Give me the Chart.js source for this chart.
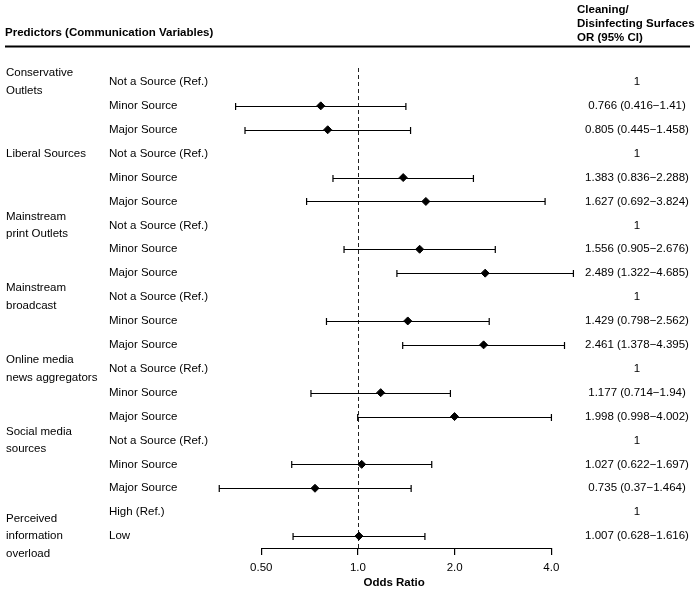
<!DOCTYPE html>
<html>
<head>
<meta charset="utf-8">
<script src="https://cdn.jsdelivr.net/npm/chart.js@4/dist/chart.umd.min.js"></script>
<style>
html,body{margin:0;padding:0;background:#fff;}
#c{display:block;}
</style>
</head>
<body>
<canvas id="c" width="699" height="591"></canvas>
<script>
// ---- data ----
const groupLabels = [
  ["Conservative", "Outlets"],
  ["Liberal Sources"],
  ["Mainstream", "print Outlets"],
  ["Mainstream", "broadcast"],
  ["Online media", "news aggregators"],
  ["Social media", "sources"],
  ["Perceived", "information", "overload"]
];
const groupLabelRow = [1, 4, 7, 10, 13, 16, 20];
const levelLabels = [
  "Not a Source (Ref.)", "Minor Source", "Major Source",
  "Not a Source (Ref.)", "Minor Source", "Major Source",
  "Not a Source (Ref.)", "Minor Source", "Major Source",
  "Not a Source (Ref.)", "Minor Source", "Major Source",
  "Not a Source (Ref.)", "Minor Source", "Major Source",
  "Not a Source (Ref.)", "Minor Source", "Major Source",
  "High (Ref.)", "Low"
];
const oddsRatio = [1, 0.766, 0.805, 1, 1.383, 1.627, 1, 1.556, 2.489, 1, 1.429, 2.461, 1, 1.177, 1.998, 1, 1.027, 0.735, 1, 1.007];
const ciLower  = [null, 0.416, 0.445, null, 0.836, 0.692, null, 0.905, 1.322, null, 0.798, 1.378, null, 0.714, 0.998, null, 0.622, 0.37, null, 0.628];
const ciUpper  = [null, 1.41, 1.458, null, 2.288, 3.824, null, 2.676, 4.685, null, 2.562, 4.395, null, 1.94, 4.002, null, 1.697, 1.464, null, 1.616];
const tickValues = [0.5, 1, 2, 4];
const tickLabels = ["0.50", "1.0", "2.0", "4.0"];
const leftHeader = "Predictors (Communication Variables)";
const rightHeader = ["Cleaning/", "Disinfecting Surfaces", "OR (95% CI)"];
const xTitle = "Odds Ratio";

// ---- derived ----
const rows = oddsRatio.map((v, i) => i + 1);
const pointData = [];
oddsRatio.forEach((v, i) => { if (ciLower[i] !== null) pointData.push({x: v, y: rows[i]}); });
const orText = oddsRatio.map((v, i) => ciLower[i] === null ? String(v) : `${v} (${ciLower[i]}\u2212${ciUpper[i]})`);

const FONT = "'Liberation Sans', Arial, sans-serif";
const FS = 11.5;
const INK = '#000';

const forestPlugin = {
  id: 'forest',
  beforeDatasetsDraw(chart) {
    const {ctx, chartArea} = chart;
    const xs = chart.scales.x, ys = chart.scales.y;
    ctx.save();
    // reference dashed line at OR = 1
    const x1 = Math.round(xs.getPixelForValue(1)) + 0.5;
    ctx.strokeStyle = '#222';
    ctx.lineWidth = 1;
    ctx.setLineDash([4, 3]);
    ctx.beginPath();
    ctx.moveTo(x1, chartArea.top - 2);
    ctx.lineTo(x1, chartArea.bottom);
    ctx.stroke();
    ctx.setLineDash([]);
    // error bars
    ctx.strokeStyle = INK;
    ctx.lineWidth = 1.2;
    rows.forEach((r, i) => {
      if (ciLower[i] === null) return;
      const y = Math.round(ys.getPixelForValue(r)) + 0.5;
      const xl = xs.getPixelForValue(ciLower[i]);
      const xu = xs.getPixelForValue(ciUpper[i]);
      ctx.beginPath();
      ctx.moveTo(xl, y); ctx.lineTo(xu, y);
      ctx.moveTo(xl, y - 3.5); ctx.lineTo(xl, y + 3.5);
      ctx.moveTo(xu, y - 3.5); ctx.lineTo(xu, y + 3.5);
      ctx.stroke();
    });
    // axis line from first to last tick
    const ay = chartArea.bottom + 0.5;
    ctx.lineWidth = 1.2;
    ctx.beginPath();
    ctx.moveTo(xs.getPixelForValue(tickValues[0]), ay);
    ctx.lineTo(xs.getPixelForValue(tickValues[tickValues.length - 1]), ay);
    ctx.stroke();
    ctx.restore();
  },
  afterDraw(chart) {
    const {ctx} = chart;
    const ys = chart.scales.y;
    ctx.save();
    ctx.fillStyle = INK;
    ctx.textBaseline = 'middle';
    // headers
    ctx.font = `bold ${FS}px ${FONT}`;
    ctx.textAlign = 'left';
    ctx.fillText(leftHeader, 5, 33);
    rightHeader.forEach((t, i) => ctx.fillText(t, 577, 10 + i * 14));
    ctx.strokeStyle = INK;
    ctx.lineWidth = 2;
    ctx.beginPath();
    ctx.moveTo(5, 46.5); ctx.lineTo(690, 46.5);
    ctx.stroke();
    // group labels
    ctx.font = `${FS}px ${FONT}`;
    groupLabels.forEach((lines, g) => {
      const cy = ys.getPixelForValue(groupLabelRow[g]);
      const lh = 17.5;
      const y0 = cy - (lines.length - 1) * lh / 2;
      lines.forEach((t, k) => ctx.fillText(t, 6, y0 + k * lh));
    });
    // level labels
    levelLabels.forEach((t, i) => ctx.fillText(t, 109, ys.getPixelForValue(rows[i])));
    // OR text column
    ctx.textAlign = 'center';
    orText.forEach((t, i) => ctx.fillText(t, 637, ys.getPixelForValue(rows[i])));
    ctx.restore();
  }
};

new Chart(document.getElementById('c'), {
  type: 'scatter',
  data: {
    datasets: [{
      data: pointData,
      pointStyle: 'rectRot',
      pointRadius: 4,
      pointBackgroundColor: INK,
      pointBorderColor: INK,
      pointBorderWidth: 1,
      showLine: false
    }]
  },
  options: {
    responsive: false,
    animation: false,
    devicePixelRatio: 1,
    events: [],
    layout: { padding: { left: 211.5, right: 122.2, top: 70, bottom: 0 } },
    plugins: { legend: { display: false }, tooltip: { enabled: false } },
    scales: {
      x: {
        type: 'logarithmic',
        position: 'bottom',
        min: 0.35,
        max: 4.8,
        afterBuildTicks: (s) => { s.ticks = tickValues.map(v => ({value: v})); },
        afterFit: (s) => { s.height = 43; },
        border: { display: false },
        grid: { display: true, drawOnChartArea: false, drawTicks: true, tickLength: 7, color: INK, lineWidth: 1.2 },
        ticks: {
          autoSkip: false, maxRotation: 0, padding: 6, color: INK,
          font: { family: FONT, size: FS },
          callback: (v) => { const k = tickValues.indexOf(v); return k >= 0 ? tickLabels[k] : ''; }
        },
        title: { display: true, text: xTitle, color: INK, font: { family: FONT, size: FS, weight: 'bold' }, padding: { top: 0, bottom: 1 } }
      },
      y: {
        type: 'linear',
        min: 0.5,
        max: 20.5,
        reverse: true,
        display: false
      }
    }
  },
  plugins: [forestPlugin]
});
</script>
</body>
</html>
